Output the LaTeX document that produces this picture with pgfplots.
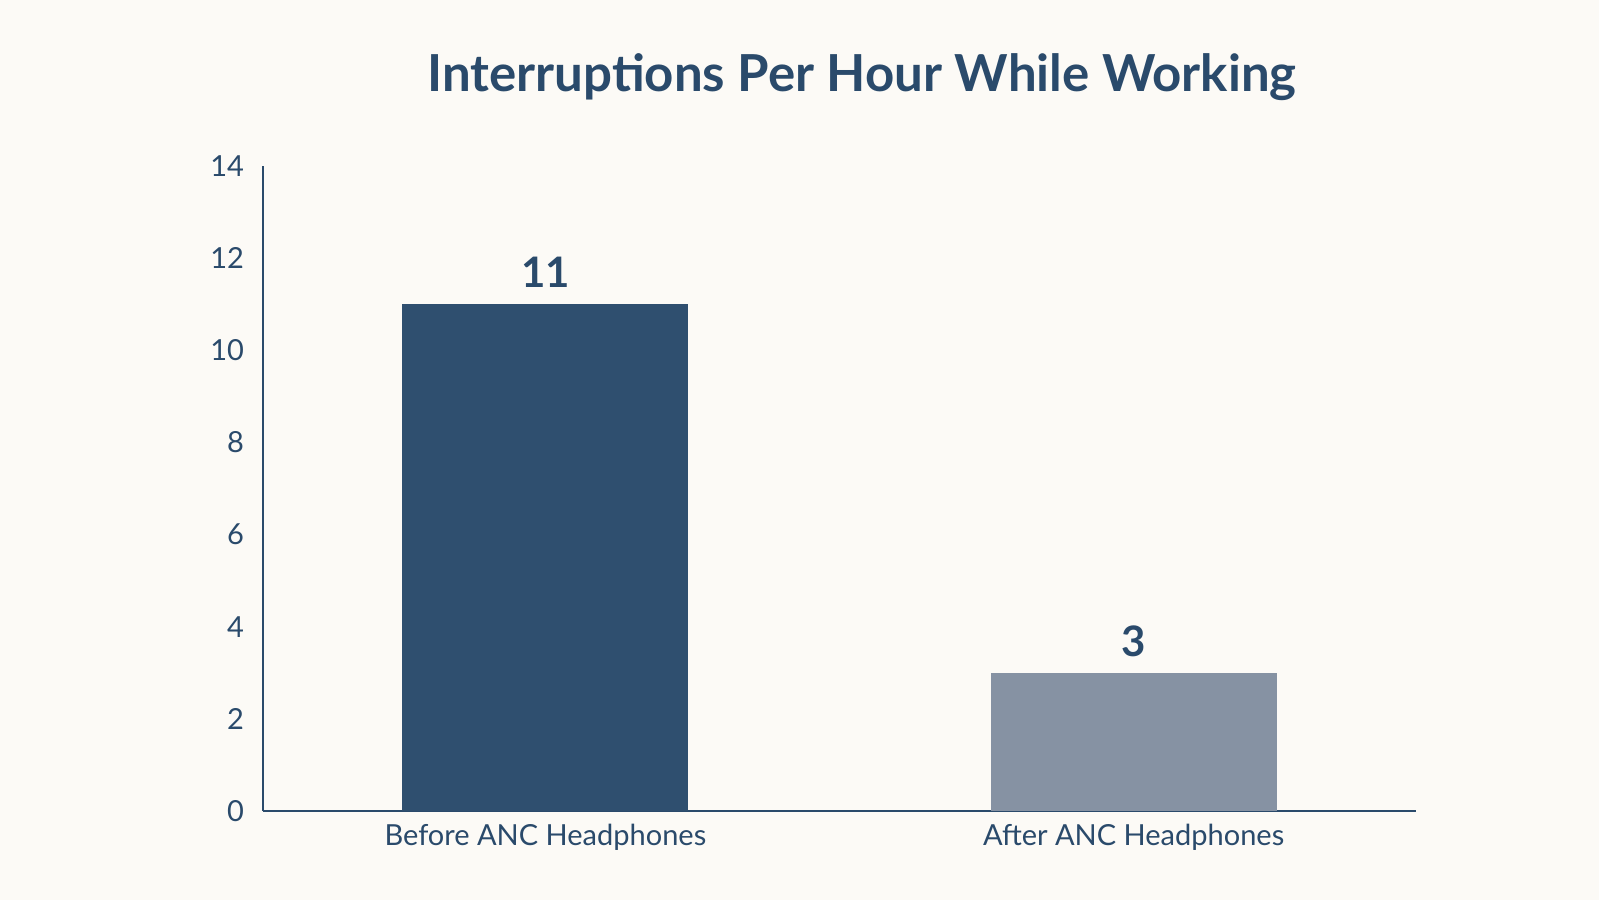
\documentclass[border=0pt]{standalone}
\usepackage{fontspec}
\setmainfont{Lato}
\usepackage{pgfplots}
\pgfplotsset{compat=1.18}
\definecolor{bgcream}{HTML}{FCFAF6}
\definecolor{navy}{HTML}{2A4A6B}
\definecolor{bardark}{HTML}{2F4F6F}
\definecolor{barlight}{HTML}{8692A3}
\begin{document}
\begin{tikzpicture}
  \fill[bgcream] (0pt,0pt) rectangle (799.5pt,450pt);
  \node[text=navy, font=\fontsize{25.5}{30}\selectfont\bfseries] at (431pt,411.5pt)
    {Interruptions Per Hour While Working};
  \begin{axis}[
      at={(131.5pt,44.5pt)}, anchor=south west,
      scale only axis, width=576.5pt, height=322.5pt,
      axis x line=bottom, axis y line=left,
      axis line style={navy, line width=1.4pt, -},
      xmin=-0.48, xmax=1.48, ymin=0, ymax=14,
      xtick={0,1},
      xticklabels={Before ANC Headphones, After ANC Headphones},
      ytick={0,2,4,6,8,10,12,14},
      major tick length=0pt,
      tick style={draw=none},
      /pgf/number format/assume math mode=true,
      ticklabel style={text=navy, font=\fontsize{14.5}{17}\selectfont},
      yticklabel style={xshift=-6pt},
      xticklabel style={yshift=-3pt},
      ybar, bar width=0.486, bar shift=0pt,
      clip=false,
      nodes near coords,
      every node near coord/.append style={text=navy, inner sep=0pt, yshift=8pt,
        anchor=south, font=\fontsize{21}{24}\selectfont\bfseries},
    ]
    \addplot[fill=bardark, draw=none] coordinates {(0,11)};
    \addplot[fill=barlight, draw=none] coordinates {(1,3)};
  \end{axis}
\end{tikzpicture}
\end{document}
